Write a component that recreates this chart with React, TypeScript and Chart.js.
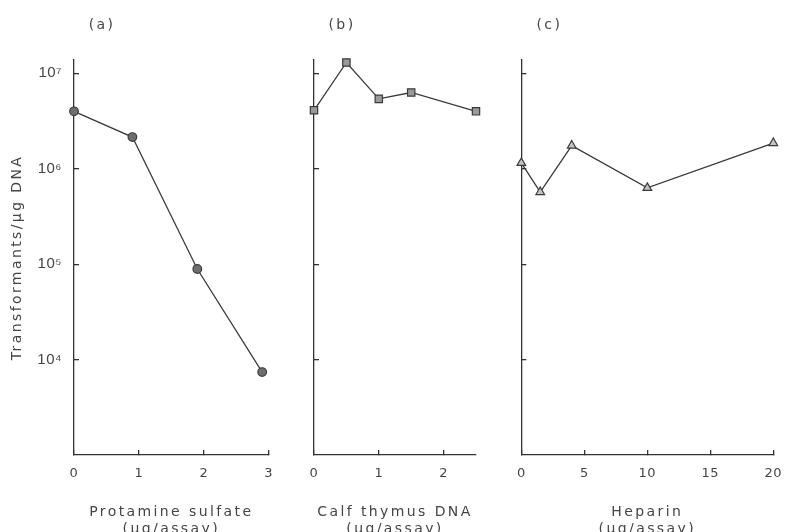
import { useEffect, useRef } from 'react';
import { Chart, registerables } from 'chart.js';

Chart.register(...registerables);

// ---------- data ----------
const protamineDose = [0, 0.9, 1.9, 2.9];
const protamineTransformants = [4.0e6, 2.15e6, 8.9e4, 7.4e3];

const calfThymusDose = [0, 0.5, 1, 1.5, 2.5];
const calfThymusTransformants = [4.1e6, 1.3e7, 5.4e6, 6.3e6, 4.0e6];

const heparinDose = [0, 1.5, 4, 10, 20];
const heparinTransformants = [1.15e6, 5.7e5, 1.75e6, 6.3e5, 1.86e6];

const yTickValues = [1e4, 1e5, 1e6, 1e7];
const yTickLabels = ['10⁴', '10⁵', '10⁶', '10⁷'];
const yMin = 1e3;
const yMax = 1.38e7;
const yTitle = 'Transformants/μg DNA';

const xTicksA = [0, 1, 2, 3];
const xTicksB = [0, 1, 2];
const xTicksC = [0, 5, 10, 15, 20];
const xMaxA = 3;
const xMaxB = 2.5;
const xMaxC = 20;

const panelLabels = ['(a)', '(b)', '(c)'];
const xTitleA = ['Protamine sulfate', '(μg/assay)'];
const xTitleB = ['Calf thymus DNA', '(μg/assay)'];
const xTitleC = ['Heparin', '(μg/assay)'];

// ---------- styling ----------
const TEXT = '#454545';
const AXIS = '#333333';
const LINE = '#3a3a3a';
const FONT = '"DejaVu Sans", sans-serif';
const TICK_FONT_Y = '"Liberation Sans", "DejaVu Sans", sans-serif';
const LETTER_SPACING = '2.4px';
const TICK_SPACING = '0.5px';

Chart.defaults.font.family = FONT;
Chart.defaults.color = TEXT;

const spacingPlugin = {
  id: 'spacing',
  beforeUpdate(chart: any) {
    chart.ctx.letterSpacing = LETTER_SPACING;
  },
  beforeDraw(chart: any) {
    chart.ctx.letterSpacing = LETTER_SPACING;
    Object.values(chart.scales).forEach((s: any) => {
      if (s.__wrapped) return;
      const orig = s.drawLabels;
      s.drawLabels = function (area: any) {
        const c = this.ctx;
        const prev = c.letterSpacing;
        c.letterSpacing = TICK_SPACING;
        orig.call(this, area);
        c.letterSpacing = prev;
      };
      s.__wrapped = true;
    });
  },
};

const panelLabelPlugin = {
  id: 'panelLabel',
  afterDraw(chart: any, _args: any, opts: any) {
    const { ctx, chartArea } = chart;
    ctx.save();
    ctx.letterSpacing = LETTER_SPACING;
    ctx.font = `14px ${FONT}`;
    ctx.fillStyle = TEXT;
    ctx.textAlign = 'center';
    ctx.textBaseline = 'middle';
    ctx.fillText(opts.text, chartArea.left + opts.dx, opts.y);
    ctx.restore();
  },
};

type Panel = {
  label: string;
  xs: number[];
  ys: number[];
  xMax: number;
  xTicks: number[];
  xTitle: string[];
  showY: boolean;
  pointStyle: string;
  radius: number;
  fill: string;
  // layout
  canvasLeft: number;
  canvasWidth: number;
  yAxisWidth: number;
  padRight: number;
};

const panels: Panel[] = [
  {
    label: panelLabels[0], xs: protamineDose, ys: protamineTransformants, xMax: xMaxA, xTicks: xTicksA,
    xTitle: xTitleA, showY: true, pointStyle: 'circle', radius: 4.3, fill: '#6e6e6e',
    canvasLeft: 0, canvasWidth: 290, yAxisWidth: 74, padRight: 19,
  },
  {
    label: panelLabels[1], xs: calfThymusDose, ys: calfThymusTransformants, xMax: xMaxB, xTicks: xTicksB,
    xTitle: xTitleB, showY: false, pointStyle: 'rect', radius: 5.2, fill: '#9a9a9a',
    canvasLeft: 290, canvasWidth: 210, yAxisWidth: 24, padRight: 24,
  },
  {
    label: panelLabels[2], xs: heparinDose, ys: heparinTransformants, xMax: xMaxC, xTicks: xTicksC,
    xTitle: xTitleC, showY: false, pointStyle: 'triangle', radius: 5, fill: '#c4c4c4',
    canvasLeft: 500, canvasWidth: 300, yAxisWidth: 21, padRight: 21,
  },
];

function makeConfig(p: Panel): any {
  const data = p.xs.map((x, i) => ({ x, y: p.ys[i] }));
  return {
    type: 'line',
    data: {
      datasets: [
        {
          data,
          borderColor: LINE,
          borderWidth: 1.3,
          tension: 0,
          pointStyle: p.pointStyle,
          pointRadius: p.radius,
          pointBackgroundColor: p.fill,
          pointBorderColor: '#3a3a3a',
          pointBorderWidth: 1.2,
          clip: false,
        },
      ],
    },
    plugins: [spacingPlugin, panelLabelPlugin],
    options: {
      animation: false,
      responsive: false,
      events: [],
      layout: { padding: { left: 0, right: p.padRight, top: 60, bottom: 0 } },
      plugins: {
        legend: { display: false },
        tooltip: { enabled: false },
        title: { display: false },
        panelLabel: { text: p.label, dx: 28, y: 25 },
      },
      scales: {
        x: {
          type: 'linear',
          min: 0,
          max: p.xMax,
          afterBuildTicks: (s: any) => {
            s.ticks = p.xTicks.map((v) => ({ value: v }));
          },
          afterFit: (s: any) => {
            s.height = 77;
          },
          ticks: {
            font: { size: 13 },
            color: TEXT,
            padding: 16,
            maxRotation: 0,
            callback: (v: number) => String(v),
          },
          grid: {
            display: true,
            drawOnChartArea: false,
            drawTicks: true,
            tickLength: -5,
            color: AXIS,
            lineWidth: 1.3,
          },
          border: { display: true, color: AXIS, width: 1.3 },
          title: {
            display: true,
            text: p.xTitle,
            color: TEXT,
            font: { size: 14, lineHeight: 1.15 },
            padding: { top: 0, bottom: -5 },
          },
        },
        y: {
          type: 'logarithmic',
          min: yMin,
          max: yMax,
          afterBuildTicks: (s: any) => {
            s.ticks = yTickValues.map((v) => ({ value: v }));
          },
          afterFit: (s: any) => {
            s.width = p.yAxisWidth;
          },
          ticks: {
            display: p.showY,
            font: { size: 15, family: TICK_FONT_Y },
            color: TEXT,
            padding: 17,
            callback: (v: number) => {
              const i = yTickValues.indexOf(v);
              return i >= 0 ? yTickLabels[i] : '';
            },
          },
          grid: {
            display: true,
            drawOnChartArea: false,
            drawTicks: true,
            tickLength: -5,
            color: AXIS,
            lineWidth: 1.3,
          },
          border: { display: true, color: AXIS, width: 1.3 },
          title: {
            display: p.showY,
            text: yTitle,
            color: TEXT,
            font: { size: 14 },
            padding: { top: 9, bottom: 0 },
          },
        },
      },
    },
  };
}

export default function App() {
  const r0 = useRef<HTMLCanvasElement>(null);
  const r1 = useRef<HTMLCanvasElement>(null);
  const r2 = useRef<HTMLCanvasElement>(null);
  const refs = [r0, r1, r2];

  useEffect(() => {
    const charts = panels.map((p, i) => new Chart(refs[i].current as HTMLCanvasElement, makeConfig(p)));
    return () => charts.forEach((c) => c.destroy());
  }, []);

  return (
    <div
      style={{
        position: 'absolute',
        left: 0,
        top: 0,
        width: 789,
        height: 532,
        overflow: 'hidden',
        background: '#ffffff',
      }}
    >
      {panels.map((p, i) => (
        <canvas
          key={i}
          ref={refs[i]}
          width={p.canvasWidth}
          height={532}
          style={{ position: 'absolute', left: p.canvasLeft, top: 0, width: p.canvasWidth, height: 532 }}
        />
      ))}
    </div>
  );
}
